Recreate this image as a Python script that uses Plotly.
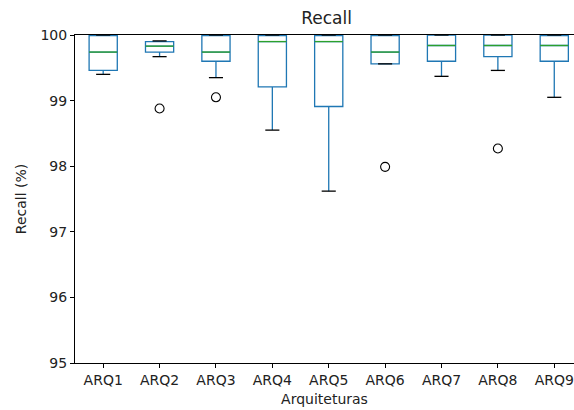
import plotly.graph_objects as go

categories = ["ARQ1", "ARQ2", "ARQ3", "ARQ4", "ARQ5", "ARQ6", "ARQ7", "ARQ8", "ARQ9"]
upper_whisker = [100.0, 99.91, 100.0, 100.0, 100.0, 100.0, 100.0, 100.0, 100.0]
q3 = [99.99, 99.90, 99.99, 99.99, 99.99, 99.99, 100.0, 100.0, 99.99]
median = [99.74, 99.83, 99.74, 99.90, 99.90, 99.74, 99.84, 99.84, 99.84]
q1 = [99.46, 99.74, 99.60, 99.21, 98.91, 99.56, 99.60, 99.67, 99.60]
lower_whisker = [99.40, 99.67, 99.35, 98.55, 97.62, 99.56, 99.37, 99.46, 99.05]
outlier_cat = ["ARQ2", "ARQ3", "ARQ6", "ARQ8"]
outlier_val = [98.88, 99.05, 97.99, 98.27]
y_ticks = [95, 96, 97, 98, 99, 100]

pos = list(range(1, len(categories) + 1))
box_w = 0.5
cap_w = 0.25

fig = go.Figure()
fig.add_trace(go.Box(
    x=pos, q1=q1, median=median, q3=q3,
    lowerfence=lower_whisker, upperfence=upper_whisker,
    width=box_w, whiskerwidth=0,
    line=dict(color="#1f77b4", width=1.3),
    fillcolor="rgba(255,255,255,0)",
    boxpoints=False, showlegend=False, hoverinfo="skip",
))

# medians (green)
mx, my = [], []
for p, m in zip(pos, median):
    mx += [p - box_w / 2, p + box_w / 2, None]
    my += [m, m, None]
fig.add_trace(go.Scatter(x=mx, y=my, mode="lines",
                         line=dict(color="#2ca02c", width=1.3),
                         showlegend=False, hoverinfo="skip"))

# whisker caps (black)
cx, cy = [], []
for p, lo, hi in zip(pos, lower_whisker, upper_whisker):
    for v in (lo, hi):
        cx += [p - cap_w / 2, p + cap_w / 2, None]
        cy += [v, v, None]
fig.add_trace(go.Scatter(x=cx, y=cy, mode="lines",
                         line=dict(color="black", width=1.3),
                         showlegend=False, hoverinfo="skip"))

# outliers
ox = [categories.index(c) + 1 for c in outlier_cat]
fig.add_trace(go.Scatter(x=ox, y=outlier_val, mode="markers",
                         marker=dict(symbol="circle-open", size=9,
                                     color="black", line=dict(width=1.1)),
                         showlegend=False, hoverinfo="skip"))

font_family = "DejaVu Sans"
fig.update_layout(
    width=574, height=410,
    margin=dict(l=75, r=0, t=35, b=47),
    paper_bgcolor="white", plot_bgcolor="white",
    font=dict(family=font_family, size=14, color="#222222"),
    title=dict(text="Recall", x=0.569, xref="container", xanchor="center",
               y=0.955, yref="container", yanchor="middle",
               font=dict(size=17, color="#222222")),
    xaxis=dict(range=[0.5, 9.35], tickvals=pos, ticktext=categories,
               showgrid=False, zeroline=False,
               showline=True, linecolor="black", linewidth=1, mirror=True,
               ticks="outside", ticklen=4, tickcolor="black",
               title=dict(text="Arquiteturas", standoff=7,
                          font=dict(size=14))),
    yaxis=dict(range=[95, 100], tickvals=y_ticks,
               showgrid=False, zeroline=False,
               showline=True, linecolor="black", linewidth=1,
               ticks="outside", ticklen=4, tickcolor="black",
               title=dict(text="Recall (%)", standoff=10,
                          font=dict(size=14))),
)

fig.write_html(
    "out.html",
    config={"displayModeBar": False, "staticPlot": True},
    post_script="document.body.style.margin='0';document.body.style.overflow='hidden';",
)
